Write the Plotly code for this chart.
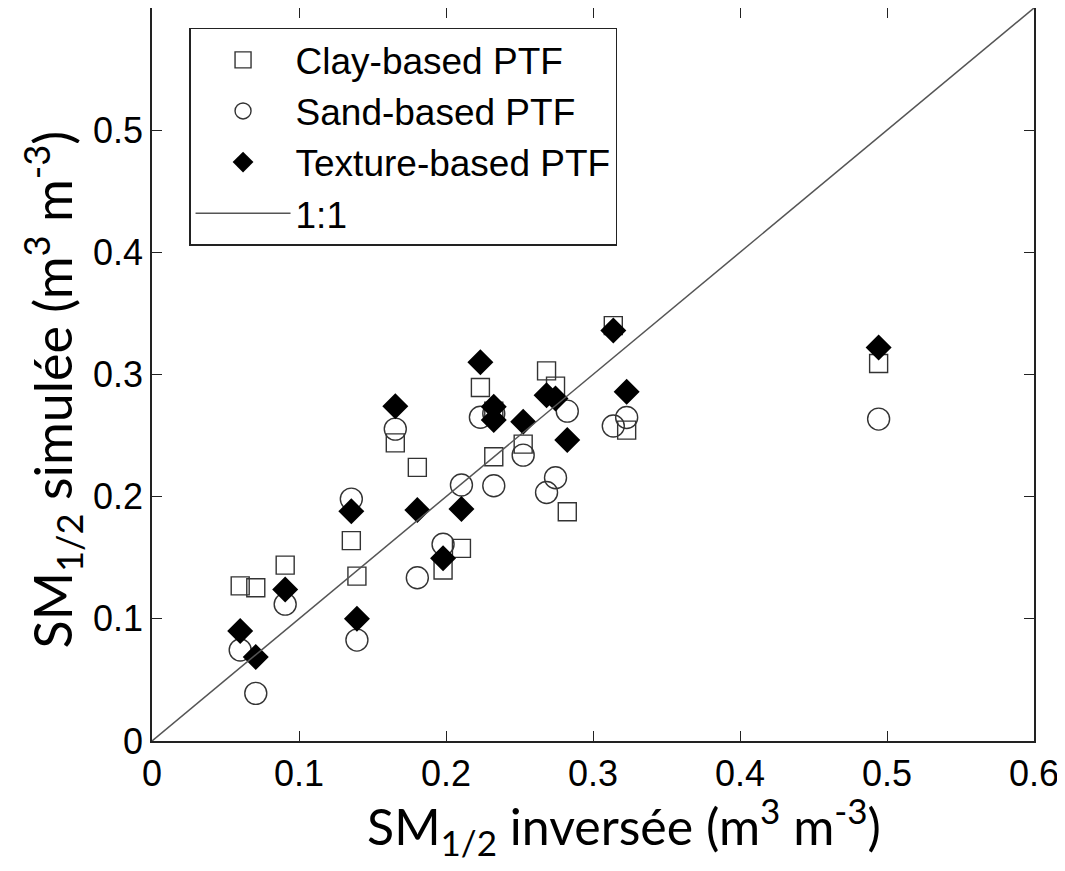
import plotly.graph_objects as go

# SM1/2 inverted (x) and simulated by each PTF (y)
sm_inv = [0.060, 0.0706, 0.0906, 0.1356, 0.1394, 0.1655, 0.1805, 0.198, 0.2105,
          0.2234, 0.2325, 0.2325, 0.2525, 0.2684, 0.2745, 0.2825, 0.3138, 0.3229, 0.4943]
clay_ptf = [0.127, 0.1255, 0.144, 0.164, 0.135, 0.244, 0.224, 0.140, 0.1577,
            0.2894, 0.2327, 0.270, 0.243, 0.303, 0.2905, 0.1877, 0.340, 0.2545, 0.309]
sand_ptf = [0.0745, 0.039, 0.112, 0.198, 0.0826, 0.2553, 0.1336, 0.161, 0.2095,
            0.265, 0.2089, 0.268, 0.234, 0.2034, 0.2155, 0.270, 0.2578, 0.2648, 0.2635]
texture_ptf = [0.090, 0.0687, 0.124, 0.188, 0.100, 0.274, 0.189, 0.1495, 0.190,
               0.310, 0.2627, 0.2736, 0.2613, 0.283, 0.2804, 0.2463, 0.336, 0.2858, 0.322]
one_to_one = [0, 0.6]

INK = '#222222'
fig = go.Figure()
fig.add_trace(go.Scatter(
    x=sm_inv, y=clay_ptf, mode='markers', name='Clay-based PTF',
    marker=dict(symbol='square-open', size=18, color='#333333', line=dict(width=1.4))
))
fig.add_trace(go.Scatter(
    x=sm_inv, y=sand_ptf, mode='markers', name='Sand-based PTF',
    marker=dict(symbol='circle-open', size=22, color='#333333', line=dict(width=1.4))
))
fig.add_trace(go.Scatter(
    x=sm_inv, y=texture_ptf, mode='markers', name='Texture-based PTF',
    marker=dict(symbol='diamond', size=20, color='black', line=dict(width=0))
))
fig.add_trace(go.Scatter(
    x=one_to_one, y=one_to_one, mode='lines', name='1:1',
    line=dict(color='#555555', width=1.5)
))

axis_common = dict(
    range=[0, 0.6], showgrid=False, zeroline=False, automargin=False,
    showline=True, linecolor=INK, linewidth=1.5, mirror='ticks',
    ticks='inside', ticklen=10, tickwidth=1.3, tickcolor=INK,
    tickfont=dict(family='Liberation Sans, Arial', size=36, color='black'),
)
fig.update_xaxes(
    **axis_common, tickvals=[0, 0.1, 0.2, 0.3, 0.4, 0.5, 0.6],
    ticktext=['0', '0.1', '0.2', '0.3', '0.4', '0.5', '0.6'],
)
fig.update_yaxes(
    **axis_common, tickvals=[0, 0.1, 0.2, 0.3, 0.4, 0.5],
    ticktext=['0', '0.1', '0.2', '0.3', '0.4', '0.5'],
)
title_font = dict(family='Lato', color='black')
fig.add_annotation(
    text='SM<sub>1/2</sub> inversée (m<sup>3</sup> m<sup>-3</sup>)',
    xref='paper', yref='paper', x=0.535, y=-0.116,
    xanchor='center', yanchor='middle', showarrow=False,
    font=dict(size=50, **title_font),
)
fig.add_annotation(
    text='SM<sub>1/2</sub> simulée (m<sup>3</sup> m<sup>-3</sup>)',
    xref='paper', yref='paper', x=-0.113, y=0.48, textangle=-90,
    xanchor='center', yanchor='middle', showarrow=False,
    font=dict(size=52, **title_font),
)
fig.update_layout(
    width=1065, height=871,
    margin=dict(l=144, r=39, t=0, b=138),
    plot_bgcolor='white', paper_bgcolor='white',
    legend=dict(
        x=0.042, y=0.973, xanchor='left', yanchor='top',
        bgcolor='white', bordercolor=INK, borderwidth=1.5,
        font=dict(family='Liberation Sans, Arial', size=37, color='black'),
        itemwidth=95, tracegroupgap=0,
    ),
)
fig.write_html('out.html')
